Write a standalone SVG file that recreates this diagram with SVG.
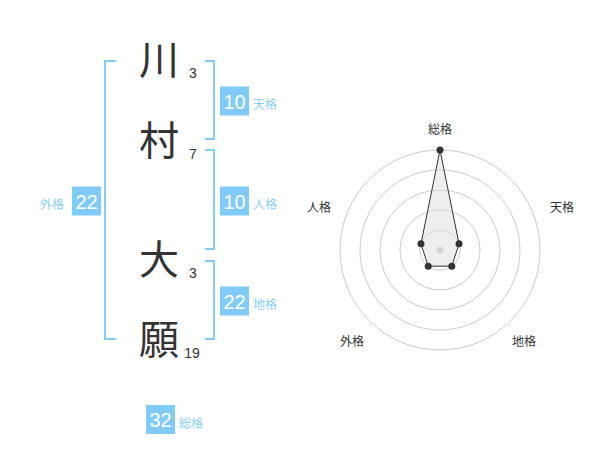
<svg xmlns="http://www.w3.org/2000/svg" width="600" height="470" viewBox="0 0 600 470">
<style>
.kanji{font-family:"Noto Sans CJK JP","Noto Sans CJK SC",sans-serif;font-size:40px;fill:#333;text-anchor:middle}
.stroke{font-family:"Liberation Sans",Arial,sans-serif;font-size:14px;fill:#333;text-anchor:middle}
.br{fill:none;stroke:#88cdf8;stroke-width:2}
.box{fill:#80cbfa}
.num{font-family:"Liberation Sans",Arial,sans-serif;font-size:20px;fill:#fff;text-anchor:middle}
.lbl{font-family:"Noto Sans CJK JP",sans-serif;font-size:12px;fill:#8dcff7}
.ax{font-family:"Noto Sans CJK JP",sans-serif;font-size:12px;fill:#333;text-anchor:middle}
.ring{fill:none;stroke:#ccc;stroke-width:1}
</style>
<rect width="600" height="470" fill="#fff"/>
<g id="name">
<text class="kanji" x="159" y="74">川</text>
<text class="kanji" x="159" y="155">村</text>
<text class="kanji" x="159" y="274">大</text>
<text class="kanji" x="159" y="354">願</text>
<text class="stroke" x="193" y="78">3</text>
<text class="stroke" x="193" y="159">7</text>
<text class="stroke" x="193" y="278">3</text>
<text class="stroke" x="192" y="358">19</text>
</g>
<g id="connectors">
<path class="br" d="M116,61 H105 V339 H116"/>
<path class="br" d="M205,61 H214 V139 H205"/>
<path class="br" d="M205,150 H214 V249 H205"/>
<path class="br" d="M205,261 H214 V339 H205"/>
</g>
<g id="tenkaku">
<rect class="box" x="220" y="86.5" width="29" height="29"/>
<text class="num" x="234.5" y="108.5">10</text>
<text class="lbl" x="253" y="109">天格</text>
</g>
<g id="jinkaku">
<rect class="box" x="220" y="186.5" width="29" height="29"/>
<text class="num" x="234.5" y="208.5">10</text>
<text class="lbl" x="253" y="209">人格</text>
</g>
<g id="chikaku">
<rect class="box" x="220" y="286.5" width="29" height="29"/>
<text class="num" x="234.5" y="308.5">22</text>
<text class="lbl" x="253" y="309">地格</text>
</g>
<g id="gaikaku">
<rect class="box" x="72" y="186.5" width="29" height="29"/>
<text class="num" x="86.5" y="208.5">22</text>
<text class="lbl" x="40" y="209">外格</text>
</g>
<g id="soukaku">
<rect class="box" x="146" y="405" width="29" height="29"/>
<text class="num" x="160.5" y="427">32</text>
<text class="lbl" x="179" y="428">総格</text>
</g>
<g id="radar">
<circle class="ring" cx="440" cy="250" r="20"/>
<circle class="ring" cx="440" cy="250" r="40"/>
<circle class="ring" cx="440" cy="250" r="60"/>
<circle class="ring" cx="440" cy="250" r="80"/>
<circle class="ring" cx="440" cy="250" r="100"/>
<circle cx="440" cy="250" r="3.5" fill="#ccc"/>
<polygon points="440,150 459,243.8 451.8,266.2 428.2,266.2 421,243.8" fill="#ddd" fill-opacity="0.5" stroke="#333" stroke-width="1"/>
<g fill="#333">
<circle cx="440" cy="150" r="3.5"/>
<circle cx="459" cy="243.8" r="3.5"/>
<circle cx="451.8" cy="266.2" r="3.5"/>
<circle cx="428.2" cy="266.2" r="3.5"/>
<circle cx="421" cy="243.8" r="3.5"/>
</g>
<text class="ax" x="440" y="134">総格</text>
<text class="ax" x="562" y="212">天格</text>
<text class="ax" x="319" y="212">人格</text>
<text class="ax" x="352" y="346">外格</text>
<text class="ax" x="524" y="346">地格</text>
</g>
</svg>
